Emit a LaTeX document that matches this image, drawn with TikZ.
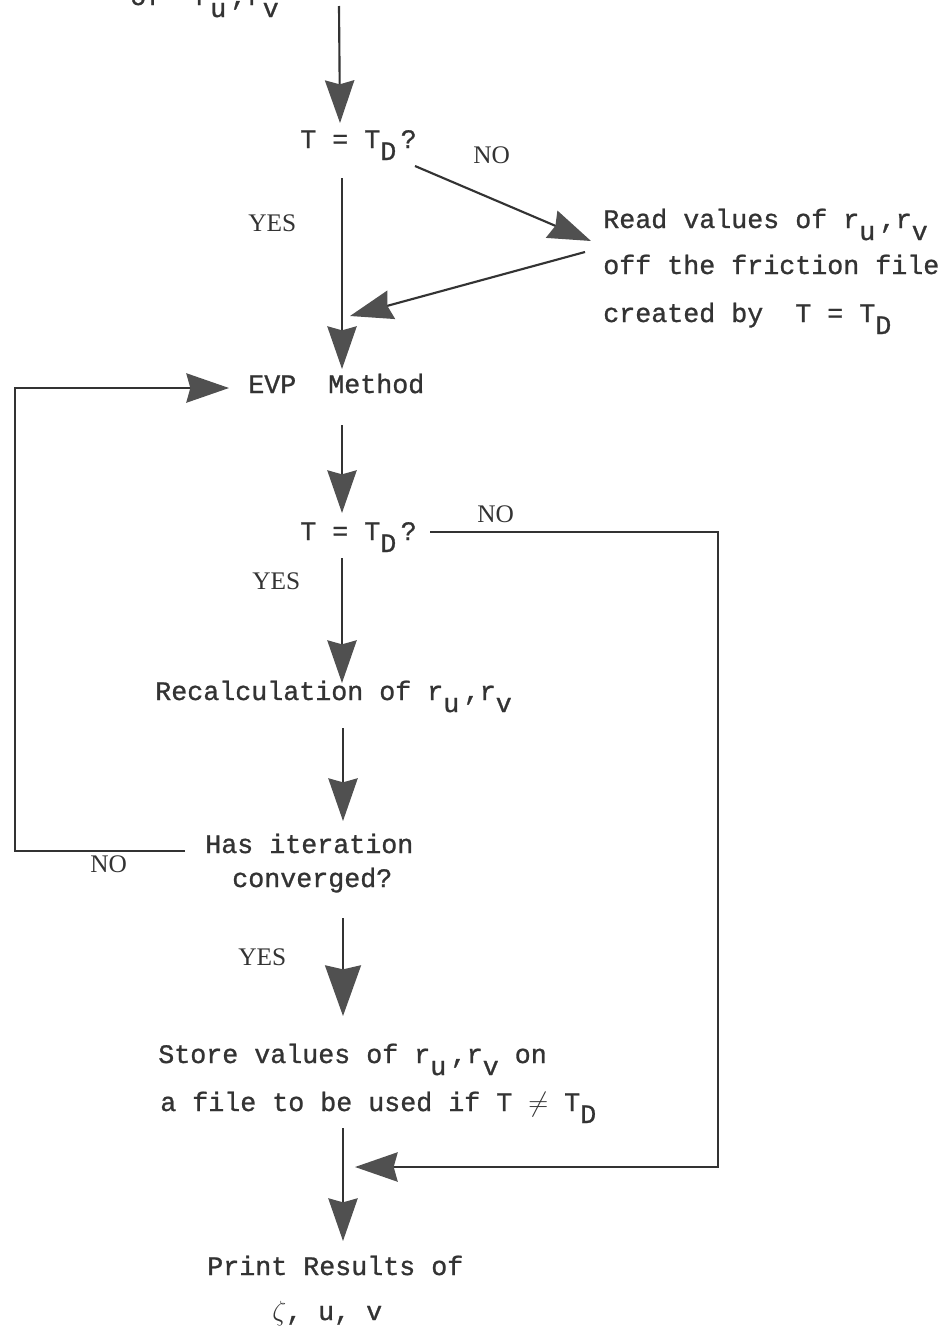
\documentclass[tikz,border=0pt]{standalone}
\usepackage{fontspec}
\setmainfont{Liberation Serif}
\newfontfamily\twfont[FakeBold=1]{Liberation Mono}
\usetikzlibrary{arrows.meta}
\newcommand\lo[1]{\raisebox{-9pt}{#1}}
\definecolor{ink}{HTML}{333333}
\definecolor{headc}{HTML}{505050}
\begin{document}
\begin{tikzpicture}[x=0.75pt,y=-0.75pt,
  txt/.style={anchor=base west,inner sep=0pt,font=\twfont\fontsize{20}{24}\selectfont,text=ink},
  lab/.style={anchor=base west,inner sep=0pt,font=\fontsize{19}{22}\selectfont,text=ink},
  flow/.style={draw=ink,line width=1.6pt,-{Stealth[length=32pt,width=22pt,inset=3pt,color=headc]}},
  bigflow/.style={draw=ink,line width=1.6pt,-{Stealth[length=38pt,width=27pt,inset=3pt,color=headc]}}]
\useasboundingbox (0,0) rectangle (947,1332);

% texts
\node[txt] (top) at (130,5) {of\ \ r\lo{u}\,,r\lo{v}};
\node[txt] (q1) at (300,148) {T = T\lo{D}\,?};
\node[txt] (read1) at (603,228) {Read values of r\lo{u}\,,r\lo{v}};
\node[txt] (read2) at (603,274) {off the friction file};
\node[txt] (read3) at (603,322) {created by\ \ T = T\lo{D}};
\node[txt] (evp) at (248,393) {EVP\ \ Method};
\node[txt] (q2) at (300,540) {T = T\lo{D}\,?};
\node[txt] (recalc) at (155,700) {Recalculation of r\lo{u}\,,r\lo{v}};
\node[txt] (has1) at (205,853) {Has iteration};
\node[txt] (has2) at (232,887) {converged?};
\node[txt] (store1) at (158,1063) {Store values of r\lo{u}\,,r\lo{v} on};
\node[txt] (store2) at (160,1111) {a file to be used if T $\ne$ T\lo{D}};
\node[txt] (print1) at (207,1275) {Print Results of};
\node[txt] (print2) at (272,1320) {$\zeta$, u, v};

% labels
\node[lab] (yes1) at (248,231) {YES};
\node[lab] (no1) at (473,163) {NO};
\node[lab] (no2) at (477,522) {NO};
\node[lab] (yes2) at (252,589) {YES};
\node[lab] (no3) at (90,872) {NO};
\node[lab] (yes3) at (238,965) {YES};

% connector end points
\coordinate (a0s) at (339,6);   \coordinate (a0e) at (340,123);
\coordinate (a1s) at (342,178); \coordinate (a1e) at (342,369);
\coordinate (a2s) at (415,166); \coordinate (a2e) at (591,241);
\coordinate (a3s) at (585,252); \coordinate (a3e) at (350,316);
\coordinate (a4s) at (342,425); \coordinate (a4e) at (342,513);
\coordinate (n2s) at (430,532); \coordinate (n2c1) at (718,532);
\coordinate (n2c2) at (718,1167); \coordinate (n2e) at (355,1167);
\coordinate (a5s) at (342,558); \coordinate (a5e) at (342,683);
\coordinate (a6s) at (343,728); \coordinate (a6e) at (343,821);
\coordinate (lps) at (185,851); \coordinate (lpc1) at (15,851);
\coordinate (lpc2) at (15,388); \coordinate (lpe) at (229,388);
\coordinate (a7s) at (343,918); \coordinate (a7e) at (343,1016);
\coordinate (a8s) at (343,1128); \coordinate (a8e) at (343,1241);

% connectors
\draw[flow] (a0s) -- (a0e);
\draw[flow] (a1s) -- (a1e);
\draw[flow] (a2s) -- (a2e);
\draw[flow] (a3s) -- (a3e);
\draw[flow] (a4s) -- (a4e);
\draw[flow] (n2s) -- (n2c1) -- (n2c2) -- (n2e);
\draw[flow] (a5s) -- (a5e);
\draw[flow] (a6s) -- (a6e);
\draw[flow] (lps) -- (lpc1) -- (lpc2) -- (lpe);
\draw[bigflow] (a7s) -- (a7e);
\draw[flow] (a8s) -- (a8e);
\end{tikzpicture}
\end{document}
